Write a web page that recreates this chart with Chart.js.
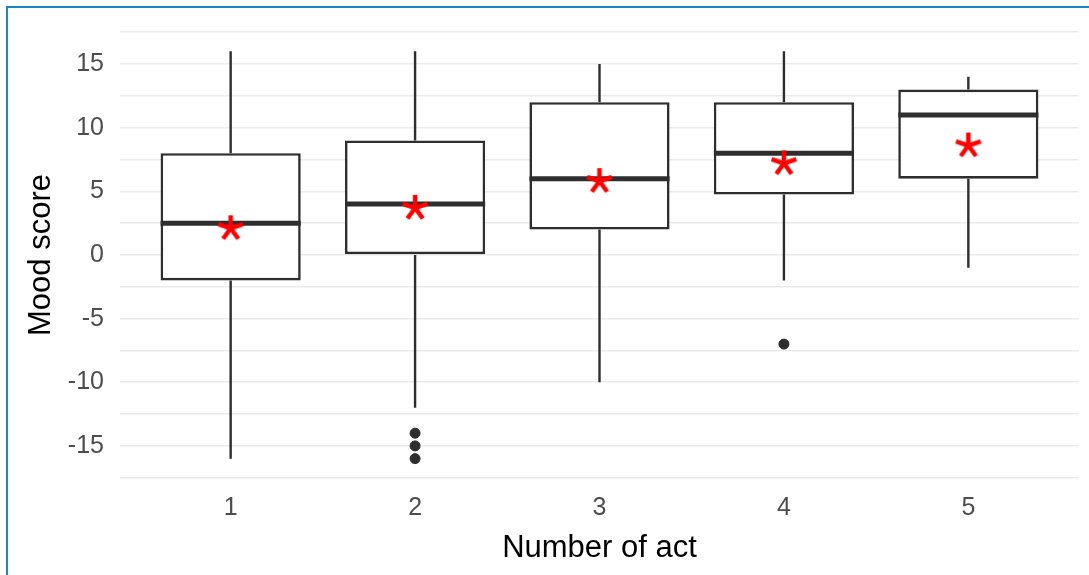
<!DOCTYPE html>
<html>
<head>
<meta charset="utf-8">
<script src="https://cdn.jsdelivr.net/npm/chart.js@4/dist/chart.umd.min.js"></script>
<style>
  body { margin: 0; background: #fff; }
  #wrap { position: relative; width: 1089px; height: 575px; }
  #frame { position: absolute; left: 6px; top: 6px; right: 0; bottom: 0;
           border-top: 2px solid #1b87c9; border-left: 2px solid #1b87c9; pointer-events: none; }
</style>
</head>
<body>
<div id="wrap">
  <canvas id="boxChart"></canvas>
  <div id="frame"></div>
</div>
<script>
// data
const groups = [1, 2, 3, 4, 5];
const whiskerLow = [-16, -12, -10, -2, -1];
const q1 = [-2, 0, 2, 4.75, 6];
const medians = [2.5, 4, 6, 8, 11];
const q3 = [8, 9, 12, 12, 13];
const whiskerHigh = [16, 16, 15, 16, 14];
const means = [2.1, 3.7, 5.8, 7.2, 8.6];
const outlierGroup = [2, 2, 2, 4];
const outlierValues = [-14, -15, -16, -7];
const yTicks = [-17.5, -15, -12.5, -10, -7.5, -5, -2.5, 0, 2.5, 5, 7.5, 10, 12.5, 15, 17.5];

const FONT = '"Liberation Sans", Arial, sans-serif';
const DARK = '#2e2e2e';

// red asterisk used for the means
function makeStar() {
    const c = document.createElement('canvas');
    c.width = 32; c.height = 32;
    const g = c.getContext('2d');
    g.strokeStyle = '#ff0000';
    g.lineWidth = 4.5;
    g.lineCap = 'butt';
    for (let i = 0; i < 5; i++) {
        const a = i * 2 * Math.PI / 5;
        g.beginPath();
        g.moveTo(16, 16);
        g.lineTo(16 + 13 * Math.sin(a), 16 - 13 * Math.cos(a));
        g.stroke();
    }
    return c;
}

// whiskers + median lines, drawn right after the boxes
const boxExtras = {
    id: 'boxExtras',
    afterDatasetDraw(chart, args) {
        if (args.index !== 0) return;
        const ctx = chart.ctx;
        const xs = chart.scales.x, ys = chart.scales.y;
        const bars = chart.getDatasetMeta(0).data;
        ctx.save();
        ctx.strokeStyle = DARK;
        groups.forEach((g, i) => {
            const x = xs.getPixelForValue(g);
            ctx.lineWidth = 2.4;
            ctx.beginPath();
            ctx.moveTo(x, ys.getPixelForValue(q3[i]));
            ctx.lineTo(x, ys.getPixelForValue(whiskerHigh[i]));
            ctx.moveTo(x, ys.getPixelForValue(q1[i]));
            ctx.lineTo(x, ys.getPixelForValue(whiskerLow[i]));
            ctx.stroke();
            const w = bars[i].width / 2;
            const y = ys.getPixelForValue(medians[i]);
            ctx.lineWidth = 5;
            ctx.beginPath();
            ctx.moveTo(x - w, y);
            ctx.lineTo(x + w, y);
            ctx.stroke();
        });
        ctx.restore();
    }
};

new Chart(document.getElementById('boxChart'), {
    type: 'bar',
    data: {
        datasets: [{
            label: 'box',
            data: groups.map((g, i) => ({ x: g, y: [q1[i], q3[i]] })),
            backgroundColor: '#ffffff',
            borderColor: DARK,
            borderWidth: 2.6,
            borderSkipped: false,
            barPercentage: 0.76,
            categoryPercentage: 1,
            order: 3
        }, {
            type: 'scatter',
            label: 'outliers',
            data: outlierGroup.map((g, i) => ({ x: g, y: outlierValues[i] })),
            backgroundColor: DARK,
            borderColor: DARK,
            pointRadius: 5,
            order: 2
        }, {
            type: 'scatter',
            label: 'mean',
            data: groups.map((g, i) => ({ x: g, y: means[i] })),
            pointStyle: makeStar(),
            order: 1
        }]
    },
    options: {
        responsive: true,
        maintainAspectRatio: false,
        animation: false,
        layout: { padding: { top: 29, right: 10, left: 0, bottom: 0 } },
        plugins: { legend: { display: false }, tooltip: { enabled: false } },
        scales: {
            x: {
                type: 'linear',
                offset: false,
                min: 0.4,
                max: 5.6,
                afterBuildTicks: s => { s.ticks = groups.map(v => ({ value: v })); },
                afterFit: s => { s.height = 96; },
                grid: { display: false, drawTicks: false },
                border: { display: false },
                ticks: { color: '#4d4d4d', font: { family: FONT, size: 25 }, padding: 14, autoSkip: false },
                title: { display: true, text: 'Number of act', color: '#000', font: { family: FONT, size: 31 }, padding: { top: 0, bottom: 8 } }
            },
            y: {
                min: -17.6,
                max: 17.6,
                afterBuildTicks: s => { s.ticks = yTicks.map(v => ({ value: v })); },
                afterFit: s => { s.width = 120; },
                grid: { color: '#ebebeb', lineWidth: 1.6, drawTicks: false },
                border: { display: false },
                ticks: {
                    color: '#4d4d4d',
                    font: { family: FONT, size: 25 },
                    padding: 16,
                    autoSkip: false,
                    callback: v => (v % 5 === 0 ? String(v) : '')
                },
                title: { display: true, text: 'Mood score', color: '#000', font: { family: FONT, size: 31 }, padding: { top: 23, bottom: 0 } }
            }
        }
    },
    plugins: [boxExtras]
});
</script>
</body>
</html>
